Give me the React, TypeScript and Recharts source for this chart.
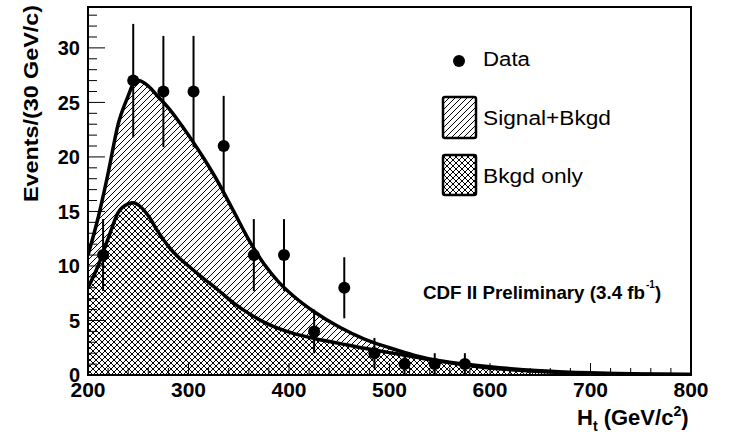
import { ComposedChart, Area, Scatter, ErrorBar, XAxis, YAxis, Legend } from "recharts";

// H_t distribution, 30 GeV bins
const dataX = [215, 245, 275, 305, 335, 365, 395, 425, 455, 485, 515, 545, 575];
const dataY = [11, 27, 26, 26, 21, 11, 11, 4, 8, 2, 1, 1, 1];
const dataErr = [3.3, 5.2, 5.1, 5.1, 4.6, 3.3, 3.3, 2.0, 2.8, 1.4, 1.0, 1.0, 1.0];

// smooth expectation curves
const curveX = [200, 210, 220, 230, 240, 245, 250, 260, 270, 280, 290, 300, 315, 330, 345, 360, 375, 390, 405, 425, 450, 475, 500, 525, 550, 575, 600, 650, 700, 750, 800];
const sigBkgd = [11.0, 14.4, 18.5, 23.0, 25.6, 26.7, 27.0, 26.5, 25.5, 24.5, 23.3, 22.0, 19.9, 17.6, 15.0, 12.4, 10.2, 8.5, 7.2, 5.8, 4.4, 3.3, 2.5, 1.8, 1.3, 1.0, 0.75, 0.4, 0.2, 0.1, 0.05];
const bkgdOnly = [8.0, 10.0, 12.5, 14.9, 15.7, 15.8, 15.6, 14.6, 13.1, 11.8, 10.8, 10.0, 8.85, 7.75, 6.6, 5.65, 4.85, 4.25, 3.8, 3.35, 2.9, 2.45, 2.05, 1.65, 1.25, 0.92, 0.65, 0.33, 0.16, 0.08, 0.04];

const xTicks = [200, 220, 240, 260, 280, 300, 320, 340, 360, 380, 400, 420, 440, 460, 480, 500, 520, 540, 560, 580, 600, 620, 640, 660, 680, 700, 720, 740, 760, 780, 800];
const yTicks = [0, 1, 2, 3, 4, 5, 6, 7, 8, 9, 10, 11, 12, 13, 14, 15, 16, 17, 18, 19, 20, 21, 22, 23, 24, 25, 26, 27, 28, 29, 30, 31, 32, 33];

const curves = curveX.map((x, i) => ({ x, sig: sigBkgd[i], bkg: bkgdOnly[i] }));
const points = dataX.map((x, i) => ({ x, y: dataY[i], err: dataErr[i] }));

const FONT = "'Liberation Sans', Arial, Helvetica, sans-serif";

const XTick = (props: any) => {
  const { x, y, payload } = props;
  const v = payload.value;
  const major = v % 100 === 0;
  const axisY = y - 7;
  return (
    <g>
      <line x1={x} x2={x} y1={axisY} y2={axisY - (major ? 12 : 7)} stroke="#000" strokeWidth={1} />
      {major && (
        <text x={x} y={y} dy="0.71em" textAnchor="middle" fontFamily={FONT} fontWeight="bold" fontSize={21} fill="#000">
          {v}
        </text>
      )}
    </g>
  );
};

const YTick = (props: any) => {
  const { x, y, payload } = props;
  const v = payload.value;
  const major = v % 5 === 0;
  const axisX = x + 8;
  return (
    <g>
      <line x1={axisX} x2={axisX + (major ? 17 : 9)} y1={y} y2={y} stroke="#000" strokeWidth={1} />
      {major && (
        <text x={x} y={y} dy="0.36em" textAnchor="end" fontFamily={FONT} fontWeight="bold" fontSize={20} fill="#000">
          {v}
        </text>
      )}
    </g>
  );
};

const LegendBox = () => (
  <svg width={270} height={170} style={{ display: "block" }}>
    <circle cx={24} cy={21} r={6} fill="#000" />
    <text x={48} y={26} fontFamily={FONT} fontSize={20} textLength={47} lengthAdjust="spacingAndGlyphs">Data</text>
    <rect x={8} y={57} width={33} height={41} rx={2} fill="url(#hatch)" stroke="#000" strokeWidth={2.5} />
    <text x={48} y={85} fontFamily={FONT} fontSize={20} textLength={128} lengthAdjust="spacingAndGlyphs">Signal+Bkgd</text>
    <rect x={8} y={115} width={33} height={40} rx={2} fill="url(#cross)" stroke="#000" strokeWidth={2.5} />
    <text x={48} y={143} fontFamily={FONT} fontSize={20} textLength={100} lengthAdjust="spacingAndGlyphs">Bkgd only</text>
  </svg>
);

export default function App() {
  return (
    <div style={{ position: "absolute", left: 0, top: 0, width: 731, height: 435, background: "#fff" }}>
      <svg width={0} height={0} style={{ position: "absolute" }}>
        <defs>
          <pattern id="hatch" patternUnits="userSpaceOnUse" width={6} height={6}>
            <path d="M0,6 L6,0 M-1,1 L1,-1 M5,7 L7,5" stroke="#000" strokeWidth={1} shapeRendering="crispEdges" />
          </pattern>
          <pattern id="cross" patternUnits="userSpaceOnUse" width={6} height={6}>
            <rect width={6} height={6} fill="#fff" />
            <path d="M0,6 L6,0 M-1,1 L1,-1 M5,7 L7,5 M0,0 L6,6 M-1,5 L1,7 M5,-1 L7,1" stroke="#000" strokeWidth={1} shapeRendering="crispEdges" />
          </pattern>
        </defs>
      </svg>
      <ComposedChart width={731} height={435} data={curves} margin={{ top: 7, right: 40, bottom: 30, left: 28 }}>
        <XAxis
          dataKey="x"
          type="number"
          domain={[200, 800]}
          ticks={xTicks}
          interval={0}
          tickSize={0}
          tickMargin={7}
          tickLine={false}
          axisLine={false}
          height={30}
          tick={<XTick />}
          allowDataOverflow
        />
        <YAxis
          type="number"
          domain={[0, 33.75]}
          ticks={yTicks}
          interval={0}
          tickSize={0}
          tickMargin={8}
          tickLine={false}
          axisLine={false}
          width={60}
          tick={<YTick />}
          allowDataOverflow
        />
        <Area dataKey="sig" type="monotone" stroke="#000" strokeWidth={3.5} fill="url(#hatch)" fillOpacity={1} dot={false} activeDot={false} isAnimationActive={false} />
        <Area dataKey="bkg" type="monotone" stroke="#000" strokeWidth={3.5} fill="url(#cross)" fillOpacity={1} dot={false} activeDot={false} isAnimationActive={false} />
        <Scatter
          data={points}
          dataKey="y"
          isAnimationActive={false}
          shape={(p: any) => <circle cx={p.cx} cy={p.cy} r={6} fill="#000" />}
        >
          <ErrorBar dataKey="err" direction="y" width={0} stroke="#000" strokeWidth={2} />
        </Scatter>
        <Legend
          layout="horizontal"
          verticalAlign="middle"
          align="center"
          wrapperStyle={{ left: 435, top: 40, width: 270, height: 170 }}
          content={() => <LegendBox />}
        />
      </ComposedChart>
      <svg width={731} height={435} style={{ position: "absolute", left: 0, top: 0, pointerEvents: "none" }}>
        <rect x={88} y={7} width={603} height={368} fill="none" stroke="#000" strokeWidth={2} />
        <text
          transform="translate(37.5,103.5) rotate(-90)"
          textAnchor="middle"
          fontFamily={FONT}
          fontWeight="bold"
          fontSize={21}
          textLength={197}
          lengthAdjust="spacingAndGlyphs"
        >
          Events/(30 GeV/c)
        </text>
        <text x={577} y={425} fontFamily={FONT} fontWeight="bold" fontSize={22}>
          H<tspan dy={6} fontSize={14}>t</tspan>
          <tspan dy={-6}> (GeV/c</tspan>
          <tspan dy={-9} fontSize={14}>2</tspan>
          <tspan dy={9}>)</tspan>
        </text>
        <text x={423} y={299} fontFamily={FONT} fontWeight="bold" fontSize={18.5} textLength={222} lengthAdjust="spacingAndGlyphs">
          CDF II Preliminary (3.4 fb
        </text>
        <text x={646} y={288} fontFamily={FONT} fontWeight="bold" fontSize={10}>-1</text>
        <text x={655} y={299} fontFamily={FONT} fontWeight="bold" fontSize={18.5}>)</text>
      </svg>
    </div>
  );
}
